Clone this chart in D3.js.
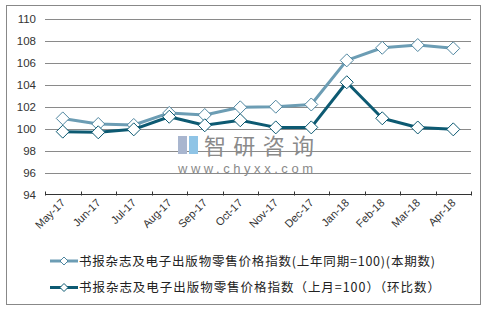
<!DOCTYPE html>
<html><head><meta charset="utf-8">
<script src="https://cdn.jsdelivr.net/npm/d3@7"></script>
<style>body{margin:0;background:#fff;} svg{display:block;}</style>
</head><body>
<svg id="c" width="491" height="311"></svg>
<script>
const categories = ["May-17","Jun-17","Jul-17","Aug-17","Sep-17","Oct-17","Nov-17","Dec-17","Jan-18","Feb-18","Mar-18","Apr-18"];
const yoyValues = [100.95,100.44,100.35,101.45,101.26,101.96,102.02,102.22,106.25,107.4,107.65,107.35];
const momValues = [99.74,99.68,99.95,101.1,100.32,100.78,100.13,100.13,104.25,100.96,100.12,99.95];
const seriesNames = ["书报杂志及电子出版物零售价格指数(上年同期=100)(本期数)","书报杂志及电子出版物零售价格指数（上月=100）（环比数）"];
const yTicks = [94,96,98,100,102,104,106,108,110];
const colors = ["#6c9db4","#0d5a72"];

const svg = d3.select("#c");
const font = "Arial, 'Liberation Sans', 'Noto Sans CJK SC', sans-serif";
svg.append("rect").attr("x",6.5).attr("y",5.5).attr("width",474).attr("height",299)
  .attr("fill","#fff").attr("stroke","#888").attr("stroke-width",1);

const L=45,R=471,T=19.3,B=194.5;
const x = d3.scaleBand().domain(categories).range([L,R]);
const y = d3.scaleLinear().domain([94,110]).range([B,T]);

// grid
svg.append("g").selectAll("line").data(yTicks.slice(1)).join("line")
  .attr("x1",L).attr("x2",R).attr("y1",d=>Math.round(y(d))+0.5).attr("y2",d=>Math.round(y(d))+0.5)
  .attr("stroke","#8a8a8a").attr("stroke-width",1);

// y labels
svg.append("g").selectAll("text").data(yTicks).join("text")
  .attr("x",36).attr("y",d=>y(d)+4).attr("text-anchor","end")
  .attr("font-family",font).attr("font-size",11.5).attr("fill","#333").text(d=>d);

// watermark
const wm = svg.append("g");
wm.append("rect").attr("x",178).attr("y",136).attr("width",9).attr("height",18).attr("fill","#a9b6cf");
wm.append("rect").attr("x",189).attr("y",136).attr("width",9).attr("height",18).attr("fill","#8fc4e6");
wm.append("text").attr("x",204).attr("y",154).attr("font-family","'Noto Sans CJK SC',sans-serif")
  .attr("font-size",22).attr("fill","#8a8a8a").attr("textLength",110).attr("lengthAdjust","spacing").text("智研咨询");
wm.append("text").attr("x",178).attr("y",173).attr("font-family",font)
  .attr("font-size",13).attr("fill","#8a8a8a").attr("textLength",135).attr("lengthAdjust","spacing").text("www.chyxx.com");

// x axis
const xa = svg.append("g");
xa.append("line").attr("x1",L).attr("x2",R).attr("y1",B).attr("y2",B).attr("stroke","#333");
const bounds = categories.map(c=>x(c)).concat([R]);
xa.selectAll("line.t").data(bounds).join("line").attr("class","t")
  .attr("x1",d=>Math.round(d)+0.5).attr("x2",d=>Math.round(d)+0.5).attr("y1",B-3).attr("y2",B+1).attr("stroke","#333");
xa.selectAll("text").data(categories).join("text")
  .attr("transform",d=>`translate(${x(d)+x.bandwidth()/2+3},${B+9}) rotate(-45)`)
  .attr("text-anchor","end").attr("font-family",font).attr("font-size",11).attr("fill","#333").text(d=>d);

// lines
const line = d3.line().x((d,i)=>x(categories[i])+x.bandwidth()/2).y(d=>y(d));
const diamond = (cx,cy,r)=>`M${cx},${cy-r}L${cx+r},${cy}L${cx},${cy+r}L${cx-r},${cy}Z`;
[yoyValues,momValues].forEach((vals,k)=>{
  svg.append("path").attr("d",line(vals)).attr("fill","none").attr("stroke",colors[k]).attr("stroke-width",3).attr("stroke-linejoin","round");
  svg.append("g").selectAll("path").data(vals).join("path")
    .attr("d",(d,i)=>diamond(x(categories[i])+x.bandwidth()/2,y(d),6.5))
    .attr("fill","#fff").attr("stroke",k===0?"#4f86a0":"#0d5a72").attr("stroke-width",1);
});

// legend
const legY=[261,287.5];
const legW=[356,361];
seriesNames.forEach((n,k)=>{
  const g=svg.append("g");
  g.append("line").attr("x1",50).attr("x2",78).attr("y1",legY[k]).attr("y2",legY[k]).attr("stroke",colors[k]).attr("stroke-width",3);
  g.append("path").attr("d",diamond(64,legY[k],4)).attr("fill","#fff").attr("stroke",k===0?"#4f86a0":"#0d5a72");
  g.append("text").attr("x",79).attr("y",legY[k]+4.5).attr("font-family","'Noto Sans CJK SC',Arial,sans-serif")
    .attr("font-size",12.5).attr("fill","#222").attr("textLength",legW[k]).attr("lengthAdjust","spacing").text(n);
});
</script>
</body></html>
